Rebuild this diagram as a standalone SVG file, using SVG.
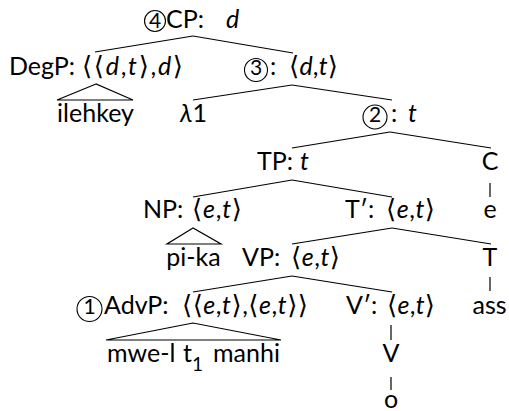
<svg xmlns="http://www.w3.org/2000/svg" width="509" height="411" viewBox="0 0 509 411">
  <style>
    text { font-family: Lato, "Liberation Sans", sans-serif; font-size: 25px; fill: #000; }
    .c { text-anchor: middle; }
    .it { font-style: italic; }
    .br { font-family: "DejaVu Sans", sans-serif; font-size: 26px; }
    .dg { font-size: 21px; text-anchor: middle; }
    .sub { font-size: 19px; }
    .ring { fill: none; stroke: #000; stroke-width: 1.1; }
    #edges line, #edges polygon { stroke: #000; stroke-width: 1.2; fill: none; }
  </style>
  <rect width="509" height="411" fill="#fff"/>

  <!-- branches and roof triangles -->
  <g id="edges">
    <line x1="193" y1="36" x2="95" y2="52"/>
    <line x1="193" y1="36" x2="293" y2="53"/>
    <polygon points="96,84 57,100 133,100"/>
    <line x1="292" y1="85" x2="193" y2="100"/>
    <line x1="292" y1="85" x2="392" y2="100"/>
    <line x1="390" y1="132" x2="292" y2="148"/>
    <line x1="390" y1="132" x2="491" y2="148"/>
    <line x1="292" y1="180" x2="193" y2="197"/>
    <line x1="292" y1="180" x2="392" y2="197"/>
    <line x1="490" y1="183" x2="490" y2="197"/>
    <polygon points="193,228 167,244 221,244"/>
    <line x1="392" y1="228" x2="292" y2="244"/>
    <line x1="392" y1="228" x2="491" y2="244"/>
    <line x1="292" y1="276" x2="193" y2="292"/>
    <line x1="292" y1="276" x2="392" y2="292"/>
    <line x1="490" y1="277" x2="490" y2="291"/>
    <polygon points="193,323 106,340 281,340"/>
    <line x1="391" y1="325" x2="391" y2="340"/>
    <line x1="391" y1="377" x2="391" y2="390"/>
  </g>

  <g id="cp">
    <circle class="ring" cx="155" cy="21" r="10.5"/>
    <text class="dg" x="155" y="28">4</text>
    <text x="166" y="28">CP:</text>
    <text class="it" x="226" y="28">d</text>
  </g>

  <g id="degp">
    <text x="9" y="75">DegP:</text>
    <text x="82" y="75" textLength="101" lengthAdjust="spacing"><tspan class="br">⟨⟨</tspan><tspan class="it">d</tspan>,<tspan class="it">t</tspan><tspan class="br">⟩</tspan>,<tspan class="it">d</tspan><tspan class="br">⟩</tspan></text>
  </g>

  <g id="n3">
    <circle class="ring" cx="256" cy="70" r="11.5"/>
    <text class="dg" x="256" y="75">3</text>
    <text x="270" y="75">:</text>
    <text x="289" y="75" textLength="49" lengthAdjust="spacing"><tspan class="br">⟨</tspan><tspan class="it">d</tspan>,<tspan class="it">t</tspan><tspan class="br">⟩</tspan></text>
  </g>

  <g id="ilehkey">
    <text class="c" x="95.5" y="122">ilehkey</text>
  </g>

  <g id="lambda">
    <text class="c" x="193.5" y="122"><tspan class="it">λ</tspan>1</text>
  </g>

  <g id="n2">
    <circle class="ring" cx="375" cy="117" r="12"/>
    <text class="dg" x="375" y="122">2</text>
    <text x="391" y="122">:</text>
    <text class="it" x="408" y="122">t</text>
  </g>

  <g id="tp">
    <text x="257" y="170">TP:</text>
    <text class="it" x="300" y="170">t</text>
  </g>

  <g id="c">
    <text class="c" x="490" y="170">C</text>
  </g>

  <g id="np">
    <text x="143" y="218">NP:</text>
    <text x="192" y="218" textLength="50" lengthAdjust="spacing"><tspan class="br">⟨</tspan><tspan class="it">e</tspan>,<tspan class="it">t</tspan><tspan class="br">⟩</tspan></text>
  </g>

  <g id="tbar">
    <text x="345" y="218">T′:</text>
    <text x="386" y="218" textLength="49" lengthAdjust="spacing"><tspan class="br">⟨</tspan><tspan class="it">e</tspan>,<tspan class="it">t</tspan><tspan class="br">⟩</tspan></text>
  </g>

  <g id="e">
    <text class="c" x="490" y="218">e</text>
  </g>

  <g id="pika">
    <text class="c" x="193.5" y="266">pi-ka</text>
  </g>

  <g id="vp">
    <text x="242" y="266">VP:</text>
    <text x="291" y="266" textLength="49" lengthAdjust="spacing"><tspan class="br">⟨</tspan><tspan class="it">e</tspan>,<tspan class="it">t</tspan><tspan class="br">⟩</tspan></text>
  </g>

  <g id="t">
    <text class="c" x="490" y="266">T</text>
  </g>

  <g id="advp">
    <circle class="ring" cx="89.5" cy="309" r="12.5"/>
    <text class="dg" x="89.5" y="314">1</text>
    <text x="104" y="314">AdvP:</text>
    <text x="182" y="314" textLength="126" lengthAdjust="spacing"><tspan class="br">⟨⟨</tspan><tspan class="it">e</tspan>,<tspan class="it">t</tspan><tspan class="br">⟩</tspan>,<tspan class="br">⟨</tspan><tspan class="it">e</tspan>,<tspan class="it">t</tspan><tspan class="br">⟩⟩</tspan></text>
  </g>

  <g id="vbar">
    <text x="346" y="314">V′:</text>
    <text x="387" y="314" textLength="48" lengthAdjust="spacing"><tspan class="br">⟨</tspan><tspan class="it">e</tspan>,<tspan class="it">t</tspan><tspan class="br">⟩</tspan></text>
  </g>

  <g id="ass">
    <text class="c" x="489.5" y="314">ass</text>
  </g>

  <g id="mwel">
    <text x="107" y="362">mwe-l</text>
    <text x="183" y="362">t</text>
    <text class="sub" x="192" y="371">1</text>
    <text x="213" y="362">manhi</text>
  </g>

  <g id="v">
    <text class="c" x="391" y="362">V</text>
  </g>

  <g id="o">
    <text class="c" x="391" y="408">o</text>
  </g>
</svg>
